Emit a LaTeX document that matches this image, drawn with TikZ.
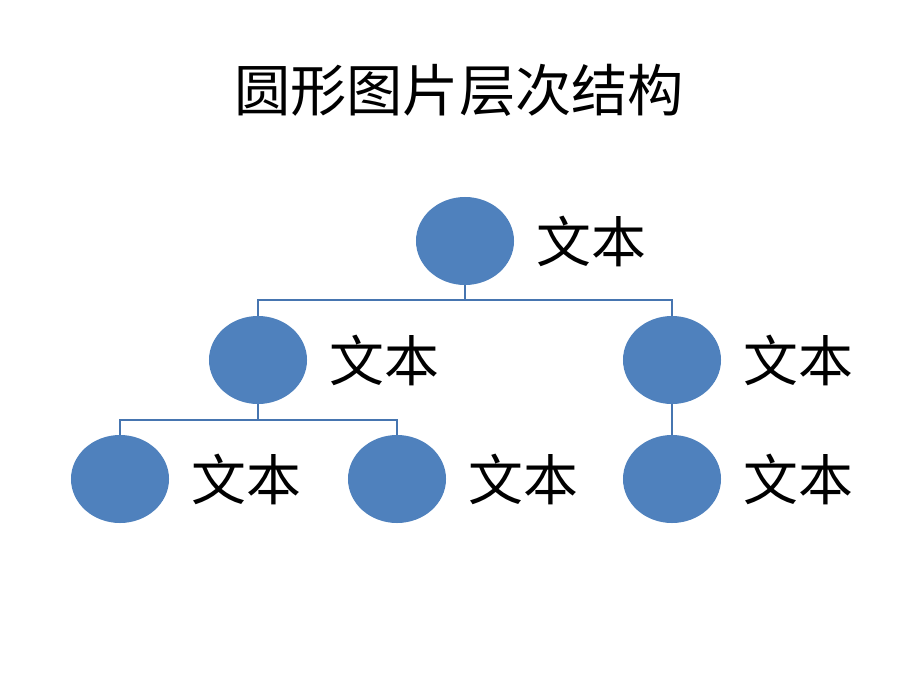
\documentclass[tikz,border=0pt]{standalone}
\usepackage{fontspec}
\newfontfamily\cjk{Noto Sans CJK SC}
\usetikzlibrary{positioning,shapes.geometric}
\definecolor{cblue}{HTML}{4F81BD}
\definecolor{lblue}{HTML}{4675B0}

\begin{document}
\begin{tikzpicture}[x=0.025cm,y=-0.025cm]

      \useasboundingbox (0,0) rectangle (920,690);

      \node (title) at (459,90) {\cjk\fontsize{40}{48}\selectfont 圆形图片层次结构};

      \begin{scope}[every node/.style={ellipse,fill=cblue,minimum width=2.45cm,minimum height=2.2cm,inner sep=0pt}]
        \node (1) at (465,241) {};
        \node (2) at (258,360) {};
        \node (3) at (672,360) {};
        \node (4) at (120,479) {};
        \node (5) at (397,479) {};
        \node (6) at (672,479) {};
      \end{scope}

      \begin{scope}[every node/.style={inner sep=0pt,font=\cjk\fontsize{39}{46}\selectfont}]
        \node[right=0.55cm of 1] (t1) {文本};
        \node[right=0.55cm of 2] (t2) {文本};
        \node[right=0.55cm of 3] (t3) {文本};
        \node[right=0.55cm of 4] (t4) {文本};
        \node[right=0.55cm of 5] (t5) {文本};
        \node[right=0.55cm of 6] (t6) {文本};
      \end{scope}

      \coordinate (j1) at (465,300);
      \coordinate (j2) at (258,420);

      \begin{scope}[draw=lblue,line width=1.9pt]
        \draw (1.south) -- (j1);
        \draw (2.north) |- (j1) -| (3.north);
        \draw (2.south) -- (j2);
        \draw (4.north) |- (j2) -| (5.north);
        \draw (3.south) -- (6.north);
      \end{scope}

    \end{tikzpicture}
\end{document}
